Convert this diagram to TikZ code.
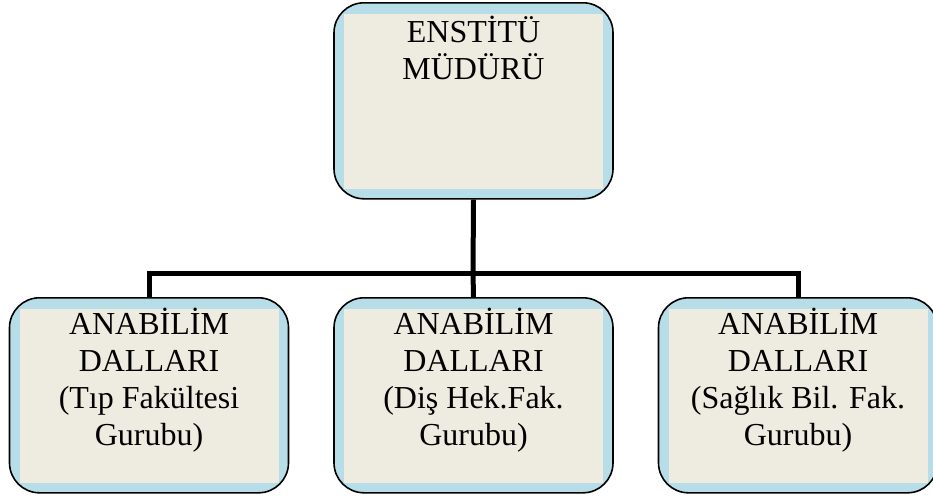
\documentclass[tikz,border=0pt]{standalone}
\usepackage{fontspec}
\setmainfont{Liberation Serif}
\usepackage{xcolor}
\definecolor{bandmavi}{HTML}{B7DEE8}
\definecolor{krem}{HTML}{EEECE1}

\begin{document}
\begin{tikzpicture}[
  x=1pt, y=-1pt,
  every node/.style={font=\fontsize{32}{37}\selectfont, align=center},
  kutu/.style={draw=black, line width=1.6pt, rounded corners=30pt, fill=bandmavi,
    anchor=north, inner xsep=0pt, inner ysep=0pt, minimum width=279pt,
    path picture={\fill[krem, sharp corners] ([xshift=10pt,yshift=-11pt]path picture bounding box.north west)
      rectangle ([xshift=-10pt,yshift=10pt]path picture bounding box.south east);}},
  ust/.style={kutu, text height=77pt, text depth=119pt},
  alt/.style={kutu, text height=148pt, text depth=47pt},
  baglanti/.style={line width=5pt}
]
\useasboundingbox (0,0) rectangle (933,498);
\coordinate (bar) at (473,273);
% kutular
\node[ust] (mudur) at (473.5,2) {ENSTİTÜ\\MÜDÜRÜ};
\node[alt] (tip) at (149,297) {ANABİLİM\\DALLARI\\(Tıp Fakültesi\\Gurubu)};
\node[alt] (dis) at (473.5,297) {ANABİLİM\\DALLARI\\(Diş Hek.Fak.\\Gurubu)};
\node[alt] (saglik) at (798,297) {ANABİLİM\\DALLARI\\(Sağlık Bil. Fak.\\Gurubu)};
% baglantilar
\draw[baglanti] (mudur.south) -- (bar);
\draw[baglanti] (bar) -| (tip.north);
\draw[baglanti] (bar) -- (dis.north);
\draw[baglanti] (bar) -| (saglik.north);
\end{tikzpicture}
\end{document}
